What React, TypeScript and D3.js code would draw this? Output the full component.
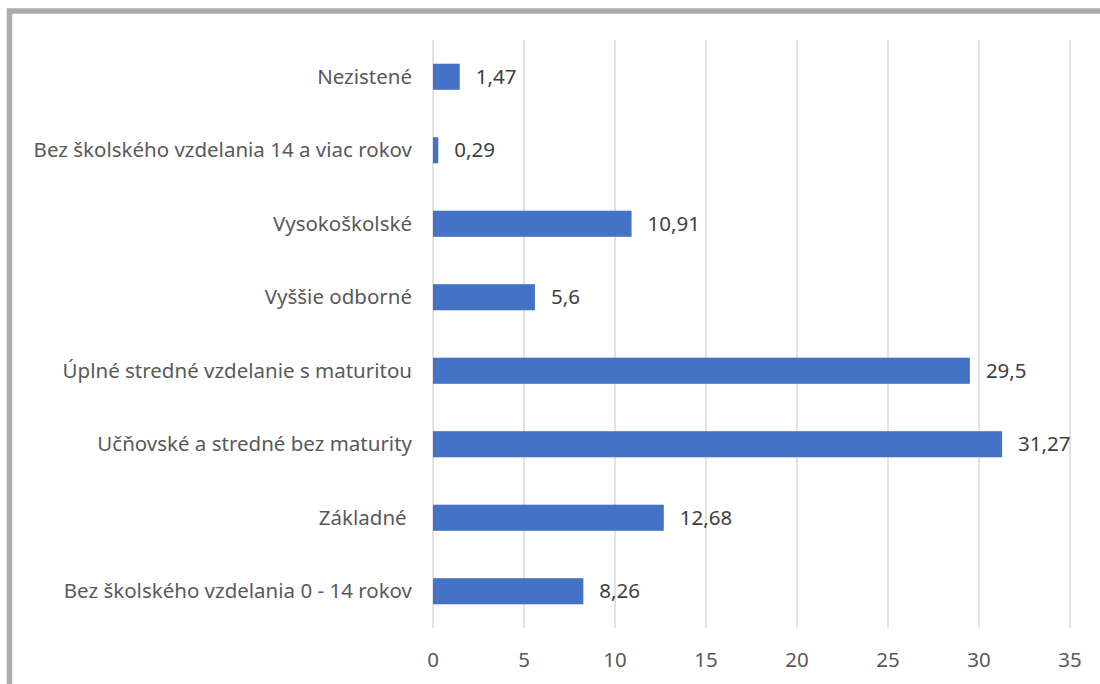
import { useEffect, useRef } from "react";
import * as d3 from "d3";

const categories = [
  "Nezistené",
  "Bez školského vzdelania 14 a viac rokov",
  "Vysokoškolské",
  "Vyššie odborné",
  "Úplné stredné vzdelanie s maturitou",
  "Učňovské a stredné bez maturity",
  "Základné ",
  "Bez školského vzdelania 0 - 14 rokov",
];
const values = [1.47, 0.29, 10.91, 5.6, 29.5, 31.27, 12.68, 8.26];
const xTicks = [0, 5, 10, 15, 20, 25, 30, 35];

const W = 1100;
const H = 684;
const FONT = "'Noto Sans', 'Open Sans', sans-serif";
const FS = "20.5px";

export default function App() {
  const ref = useRef<SVGSVGElement | null>(null);

  useEffect(() => {
    const svg = d3.select(ref.current);
    svg.selectAll("*").remove();

    svg.append("rect").attr("width", W).attr("height", H).attr("fill", "#ffffff");

    // frame of the embedded chart (cut at the right and bottom)
    svg
      .append("rect")
      .attr("x", 9.5)
      .attr("y", 11)
      .attr("width", W + 20)
      .attr("height", H + 20)
      .attr("fill", "none")
      .attr("stroke", "#aeaaaa")
      .attr("stroke-width", 5.5);

    const left = 433;
    const right = 1070;
    const top = 40;
    const bottom = 628;

    const x = d3.scaleLinear().domain([0, 35]).range([left, right]);
    const y = d3
      .scaleBand<string>()
      .domain(categories)
      .range([top, bottom])
      .paddingInner(0.645)
      .paddingOuter(0.3225);

    const g = svg.append("g");

    // gridlines
    g.selectAll(".grid")
      .data(xTicks)
      .enter()
      .append("line")
      .attr("x1", (d) => x(d))
      .attr("x2", (d) => x(d))
      .attr("y1", top)
      .attr("y2", bottom)
      .attr("stroke", "#d9d9d9")
      .attr("stroke-width", 1.5);

    // bars
    g.selectAll(".bar")
      .data(values)
      .enter()
      .append("rect")
      .attr("x", x(0))
      .attr("y", (_, i) => y(categories[i])!)
      .attr("width", (d) => x(d) - x(0))
      .attr("height", y.bandwidth())
      .attr("fill", "#4472c4");

    // value labels
    g.selectAll(".val")
      .data(values)
      .enter()
      .append("text")
      .attr("x", (d) => x(d) + 16)
      .attr("y", (_, i) => y(categories[i])! + y.bandwidth() / 2)
      .attr("dy", "0.35em")
      .attr("fill", "#404040")
      .style("font-family", FONT)
      .style("font-size", FS)
      .text((d) => String(d).replace(".", ","));

    // category labels
    g.selectAll(".cat")
      .data(categories)
      .enter()
      .append("text")
      .attr("x", 412)
      .attr("y", (d) => y(d)! + y.bandwidth() / 2)
      .attr("dy", "0.35em")
      .attr("text-anchor", "end")
      .attr("fill", "#595959")
      .style("font-family", FONT)
      .style("font-size", FS)
      .style("white-space", "pre")
      .text((d) => d);

    // x tick labels
    g.selectAll(".tick")
      .data(xTicks)
      .enter()
      .append("text")
      .attr("x", (d) => x(d))
      .attr("y", 660)
      .attr("dy", "0.35em")
      .attr("text-anchor", "middle")
      .attr("fill", "#595959")
      .style("font-family", FONT)
      .style("font-size", FS)
      .text((d) => d);
  }, []);

  return (
    <div style={{ position: "absolute", left: 0, top: 0 }}>
      <svg ref={ref} width={W} height={H} style={{ display: "block" }} />
    </div>
  );
}
